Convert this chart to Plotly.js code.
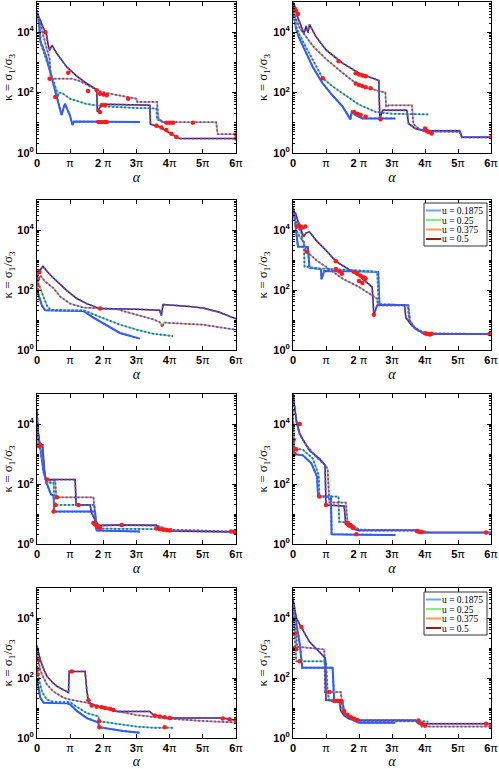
<!DOCTYPE html>
<html><head><meta charset="utf-8">
<script src="https://cdn.plot.ly/plotly-3.0.1.min.js"></script>
<style>html,body{margin:0;padding:0;background:#fff}#chart{width:499px;height:769px}</style>
</head><body><div id="chart"></div><script>
// alpha in units of pi ; kappa values
const uLabels = ['u = 0.1875','u = 0.25','u = 0.375','u = 0.5'];
const xTickVals = [0,1,2,3,4,5,6];
const xTickText = ['<b>0</b>','π','<b>2</b> π','<b>3</b>π','<b>4</b>π','<b>5</b>π','<b>6</b>π'];
const yTickVals = [1,100,10000];
const yTickText = ['<b>10<sup>0</sup></b>','<b>10<sup>2</sup></b>','<b>10<sup>4</sup></b>'];

// Panel 1
const p1b_x=[0,0.06,0.1,0.16,0.28,0.38,0.48,0.58,0.68,0.74,0.84,0.99,1.07,1.11,3.1];
const p1b_y=[5.3e4,2.5e4,4800,3500,1500,550,200,81,33,18,43,18,8.3,11,10.6];
const p1g_x=[0,0.05,0.1,0.12,0.2,0.35,0.5,0.6,0.63,0.66,0.75,1.0,1.5,2.0,3.0,3.6,3.62,3.75,4.1];
const p1g_y=[4.5e4,2e4,8000,4000,2200,700,220,110,72,100,98,62,42,35,31,30,13,11,10];
const p1o_x=[0,0.1,0.2,0.3,0.38,0.4,0.42,1.05,1.3,1.6,1.9,2.2,2.6,3.0,3.02,3.62,3.66,3.8,5.4,5.45,6.0];
const p1o_y=[3.5e4,1.8e4,7000,2800,1300,600,290,290,240,160,110,92,76,63,49,49,14,10.5,10.5,4.2,4.2];
const p1r_x=[0,0.1,0.2,0.28,0.33,0.38,0.45,0.6,0.9,1.2,1.5,1.8,1.82,1.95,2.5,3.4,3.42,3.7,4.0,4.3,6.0];
const p1r_y=[4.2e4,2.5e4,1.3e4,9000,4200,2500,3700,1950,700,350,200,126,23,41,40,38,9,7.3,4.6,3,3];
const p1d_x=[0.25,0.38,0.55,0.94,1.54,1.8,1.9,2.0,2.1,1.95,2.05,1.9,1.85,1.95,2.05,2.1,2.75,3.6,3.75,3.9,4.05,4.2,3.9,4.0,4.1,4.7,6.0,6.0];
const p1d_y=[1e4,290,72,450,113,120,92,86,82,38,38,23,10.6,10.6,10.6,10.6,63,8,7,5.8,4.3,3.4,10,10,10,10,4.1,3];

// Panel 2
const p2b_x=[0,0.05,0.1,0.2,0.4,0.6,0.9,1.2,1.5,1.74,1.78,1.9,2.1,3.1];
const p2b_y=[5e4,2.5e4,1.2e4,6000,2000,700,200,80,35,13,23,18,14,14];
const p2g_x=[0,0.05,0.1,0.2,0.4,0.6,0.9,1.2,1.5,2.0,2.5,3.0,4.1];
const p2g_y=[7e4,3e4,1.5e4,8000,3000,1200,300,160,95,40,23,20,19];
const p2o_x=[0,0.05,0.1,0.2,0.3,0.4,0.6,1.0,1.5,2.0,2.5,2.8,2.82,2.9,3.6,3.65,3.8,4.0,5.05,5.12,6.0];
const p2o_y=[9e4,5e4,2.5e4,1.4e4,1e4,7000,3500,1300,450,170,125,100,34,38,38,9,6.5,5.2,5,3.3,3.3];
const p2r_x=[0,0.08,0.15,0.25,0.33,0.4,0.45,0.5,0.7,1.0,1.5,2.0,2.3,2.6,2.63,2.72,3.45,3.5,3.7,3.95,5.05,5.12,6.0];
const p2r_y=[1e5,6e4,3e4,1.5e4,9000,1.6e4,9500,1.8e4,7000,2600,950,440,330,250,14,26,26,9.5,6.5,5.5,5.5,3.3,3.3];
const p2d_x=[0.05,0.1,0.15,0.9,1.38,1.9,2.0,2.1,2.2,1.9,2.0,2.1,2.2,2.35,1.85,1.95,2.05,2.2,2.65,4.0,4.05,4.1,4.2,6.0];
const p2d_y=[6e4,5e4,4e4,300,1100,440,400,370,350,200,180,165,150,140,23,20,18,16,13,6.5,5.5,5,4.4,3.3];

// Panel 3
const p3b_x=[0,0.05,0.15,0.25,0.5,1.0,1.4,1.7,2.0,2.5,3.1];
const p3b_y=[100,70,30,21,21,21,20,12,7.9,3.7,2.4];
const p3g_x=[0,0.05,0.15,0.3,0.4,0.8,1.4,1.7,2.0,2.5,3.0,3.5,4.1];
const p3g_y=[150,160,80,30,22,21,21,16,11.5,7.0,4.8,3.5,2.9];
const p3o_x=[0,0.03,0.1,0.25,0.48,0.7,1.0,1.4,2.0,2.4,3.0,3.5,3.7,3.78,3.83,4.0,5.0,6.0];
const p3o_y=[130,230,300,190,120,60,35,26,24,23,15,10.5,8.5,5.8,8.3,8.0,7.0,4.7];
const p3r_x=[0,0.05,0.18,0.3,0.48,0.7,0.9,1.2,1.5,1.9,2.5,3.0,3.7,3.75,3.8,4.0,4.5,5.0,5.5,6.0];
const p3r_y=[230,400,620,420,260,150,95,52,35,24,24,23,21,14,33,32,29,25,18,11];
const p3d_x=[0,0,0.02,0.07,1.9];
const p3d_y=[100,145,230,400,24];

// Panel 4
const p4b_x=[0,0.05,0.1,0.15,0.45,0.5,0.85,0.86,0.95,1.5,2.0,2.58,2.62,3.1];
const p4b_y=[6e4,3e4,8000,2800,2700,550,500,230,430,430,420,400,33,32];
const p4g_x=[0,0.05,0.1,0.2,0.33,0.35,0.8,1.5,2.0,2.55,2.6,3.5,3.55,3.7,4.0,4.1];
const p4g_y=[3e4,2e4,1e4,6000,4000,600,520,480,450,400,33,31,9,5,3.3,3.2];
const p4o_x=[0,0.08,0.15,0.25,0.3,0.42,0.7,1.0,1.5,2.0,2.4,2.55,2.57,3.48,3.52,3.7,4.0,6.0];
const p4o_y=[3.5e4,2e4,1.3e4,8000,4000,1900,1000,590,240,126,66,51,31,31,10,5.5,3.6,3.4];
const p4r_x=[0,0.08,0.15,0.25,0.32,0.4,0.5,0.7,1.0,1.3,1.6,2.0,2.4,2.45,2.55,3.38,3.42,3.6,3.8,4.0,6.0];
const p4r_y=[4.5e4,3.5e4,2e4,1e4,6000,8000,8700,4500,2100,900,550,300,125,15,31,31,12,6.5,4.5,3.4,3.4];
const p4d_x=[0.12,0.17,0.22,0.3,0.37,0.42,1.3,1.3,1.4,1.48,1.85,1.95,2.05,2.15,2.2,2.0,2.1,2.45,4.0,4.05,4.1,4.15,4.2,5.95];
const p4d_y=[1.3e4,1.4e4,1.3e4,1.2e4,1.3e4,1900,900,500,420,350,400,350,300,260,240,200,170,15,3.6,3.5,3.4,3.3,3.5,3.4];

// Panel 5
const p5b_x=[0,0.05,0.1,0.2,0.3,0.42,0.5,0.52,1.75,1.8,2.5,3.1];
const p5b_y=[1e4,2500,1500,250,100,45,40,12,12,2.8,2.7,2.6];
const p5g_x=[0,0.05,0.1,0.2,0.27,0.5,0.53,1.73,1.78,2.5,4.1];
const p5g_y=[1.5e4,3000,1800,300,110,110,20,20,3.3,3.2,3.1];
const p5o_x=[0,0.03,0.08,0.15,0.22,0.27,0.32,0.55,0.58,1.7,1.78,1.85,2.5,3.6,4.0,6.0];
const p5o_y=[2e4,5000,2000,1800,300,120,130,130,36,36,5,4.3,4.2,4.1,3.0,2.6];
const p5r_x=[0,0.03,0.08,0.12,0.17,0.22,0.27,0.32,1.15,1.18,1.6,1.65,1.75,1.87,2.5,3.6,3.7,4.0,6.0];
const p5r_y=[3e4,6000,2500,2000,2000,300,130,140,140,20,20,10.5,6.3,4.1,4.3,4.2,3.3,2.7,2.5];
const p5d_x=[0.02,0.06,0.1,0.3,0.6,0.55,0.5,1.25,1.7,1.75,1.8,1.85,1.9,2.55,3.6,3.7,3.8,3.9,4.0,5.85,5.95,6.0];
const p5d_y=[2000,1800,2000,140,36,20,12,20,5,4.5,4,3.6,3.4,4.3,3.3,3.1,3,2.9,2.8,2.6,2.5,2.4];

// Panel 6
const p6b_x=[0,0.03,0.3,0.55,0.73,0.76,1.15,1.17,2.0,3.1];
const p6b_y=[1.2e4,1000,900,500,175,38,38,2.1,2.05,2.0];
const p6g_x=[0,0.03,0.3,0.6,0.78,0.8,1.38,1.4,1.7,2.0,3.7,4.1];
const p6g_y=[3e4,1500,1400,700,200,38,38,5.5,5.2,3.0,2.9,2.5];
const p6o_x=[0,0.05,0.1,0.2,0.4,0.7,1.0,1.05,1.1,1.6,1.65,1.8,2.0,3.8,3.9,6.0];
const p6o_y=[8e4,3e4,1.2e4,4500,2000,800,400,300,24,24,6,4,2.9,2.9,2.4,2.4];
const p6r_x=[0,0.05,0.1,0.2,0.3,0.5,0.8,0.97,1.0,1.55,1.6,1.7,1.85,2.0,3.75,3.85,6.0];
const p6r_y=[1e5,4e4,1.4e4,5000,3000,1300,700,430,20,18.5,4.5,3.8,3.1,2.8,2.8,2.4,2.4];
const p6d_x=[0.02,0.05,0.1,0.05,0.2,0.8,1.0,1.62,1.68,1.72,1.78,1.82,1.92,3.75,3.8,3.85,3.9,5.85];
const p6d_y=[3000,1500,1400,1000,1e4,38,20,5,4.5,4.2,3.8,3.4,2.1,2.7,2.6,2.5,2.5,2.4];

// Panel 7
const p7b_x=[0,0.05,0.1,0.2,0.5,0.9,1.0,1.2,1.5,1.85,1.87,2.2,2.6,3.1];
const p7b_y=[90,40,22,15,14.5,14.5,13,8,4.6,3.3,2.3,2.0,1.7,1.5];
const p7g_x=[0,0.05,0.15,0.3,0.5,0.9,1.0,1.2,1.5,1.85,1.87,2.2,2.6,3.0,3.5,4.1];
const p7g_y=[250,100,35,19,16,16,15.5,11,6.8,5.3,3.6,3.2,2.7,2.4,2.2,2.2];
const p7o_x=[0,0.05,0.1,0.2,0.3,0.5,0.8,1.0,1.5,2.0,2.5,3.0,3.5,4.0,5.0,6.0];
const p7o_y=[700,300,180,100,60,35,22,19,15,10.5,7.5,5.8,5.0,4.4,3.7,3.3];
const p7r_x=[0,0.05,0.1,0.2,0.3,0.45,0.6,0.8,0.95,0.97,1.45,1.5,1.55,1.65,2.0,2.4,3.4,3.5,3.9,5.6,6.0];
const p7r_y=[1200,700,400,200,113,75,53,40,33,166,166,40,17,13,10,7.7,7.7,6,4.6,4.6,3.9];
const p7d_x=[0.05,0.02,0.02,1.05,1.55,1.65,1.8,1.95,2.05,2.2,2.3,3.55,3.7,3.85,4.0,1.87,1.88,3.85,5.6,5.8,6.0];
const p7d_y=[400,200,130,166,18,12,11,10.5,10,9.5,8.6,5.6,5.2,4.9,4.6,3.6,2.3,2.3,4.5,4.2,4.0];

// Panel 8
const p8b_x=[0,0.05,0.1,0.2,0.28,1.2,1.25,1.5,1.55,1.7,2.0,3.1];
const p8b_y=[3e4,1.5e4,6000,1500,220,220,17,17,7,4.5,3.2,3.2];
const p8g_x=[0,0.03,0.06,0.1,1.0,1.05,1.1,1.5,1.55,1.7,2.0,3.7,4.1];
const p8g_y=[2e4,5000,2000,360,360,34,17,17,7,5,3.8,3.8,3.5];
const p8o_x=[0,0.05,0.1,0.12,0.5,0.7,0.95,0.97,1.45,1.5,1.7,2.0,3.8,3.9,6.0];
const p8o_y=[3e4,1e4,3000,1100,1000,950,900,34,34,9,5,3.6,3.6,2.4,2.4];
const p8r_x=[0,0.05,0.1,0.25,0.5,0.8,0.98,1.0,1.4,1.45,1.55,1.7,2.0,3.7,3.8,6.0];
const p8r_y=[4.4e4,2e4,1e4,5000,1600,740,460,18,18,8,5.5,4.4,3.9,3.9,3.0,3.0];
const p8d_x=[0.05,0.05,0.1,0.25,0.2,1.1,1.25,1.35,1.45,1.55,1.65,1.75,1.85,1.95,3.8,3.9,4.0,5.85,6.0];
const p8d_y=[3000,1000,900,5000,360,34,17,17,17,8,6,5,4.4,4.0,3.8,3.0,2.6,3.0,2.4];

const panels = [
  {c:[[p1b_x,p1b_y],[p1g_x,p1g_y],[p1o_x,p1o_y],[p1r_x,p1r_y]], d:[p1d_x,p1d_y]},
  {c:[[p2b_x,p2b_y],[p2g_x,p2g_y],[p2o_x,p2o_y],[p2r_x,p2r_y]], d:[p2d_x,p2d_y]},
  {c:[[p3b_x,p3b_y],[p3g_x,p3g_y],[p3o_x,p3o_y],[p3r_x,p3r_y]], d:[p3d_x,p3d_y]},
  {c:[[p4b_x,p4b_y],[p4g_x,p4g_y],[p4o_x,p4o_y],[p4r_x,p4r_y]], d:[p4d_x,p4d_y]},
  {c:[[p5b_x,p5b_y],[p5g_x,p5g_y],[p5o_x,p5o_y],[p5r_x,p5r_y]], d:[p5d_x,p5d_y]},
  {c:[[p6b_x,p6b_y],[p6g_x,p6g_y],[p6o_x,p6o_y],[p6r_x,p6r_y]], d:[p6d_x,p6d_y]},
  {c:[[p7b_x,p7b_y],[p7g_x,p7g_y],[p7o_x,p7o_y],[p7r_x,p7r_y]], d:[p7d_x,p7d_y]},
  {c:[[p8b_x,p8b_y],[p8g_x,p8g_y],[p8o_x,p8o_y],[p8r_x,p8r_y]], d:[p8d_x,p8d_y]}
];

const uColors = ['#2a5cff','#66e266','#ff8a3d','#7a0a0a'];
const legColors = ['#6ea4f0','#7ef07e','#ff9a5c','#8b1e1e'];
const dotBlue = '#3a5cf5';
const W = 499, H = 769;
const colPx = [[37,236],[293,491]];
const rowPx = [[2,153],[200,350],[394,544],[588,738]];
// minor tick positions on the log axes (axis decoration)
const minorVals = [];
for (let e = 0; e < 5; e++) for (let m = 2; m <= 10; m++) if (!(m === 10 && e % 2 === 1)) minorVals.push(m * Math.pow(10, e));

const traces = [], overlays = [], reds = [];
const layout = {
  width: W, height: H, margin:{l:0,r:0,t:0,b:0},
  paper_bgcolor:'#fff', plot_bgcolor:'#fff', showlegend:false,
  font:{family:'Liberation Sans, Arial, sans-serif', color:'#000'},
  shapes:[], annotations:[]
};
const tickFont = {family:'Liberation Sans, Arial, sans-serif', size:11, color:'#000'};

panels.forEach((p, i) => {
  const n = i + 1, s = n === 1 ? '' : String(n);
  const col = i % 2, row = Math.floor(i / 2);
  p.c.forEach((cv, j) => {
    traces.push({x: cv[0], y: cv[1], type:'scatter', mode:'lines', xaxis:'x'+s, yaxis:'y'+s,
      name: uLabels[j], line:{color:uColors[j], width: j === 0 ? 2 : 1.5}, hoverinfo:'skip'});
    overlays.push({x: cv[0], y: cv[1], type:'scatter', mode:'lines', xaxis:'x'+s, yaxis:'y'+s,
      line:{color:dotBlue, width:1.8, dash:'2px,2px'}, hoverinfo:'skip'});
  });
  reds.push({x: p.d[0], y: p.d[1], type:'scatter', mode:'markers', xaxis:'x'+s, yaxis:'y'+s,
    marker:{color:'#ff1a1a', size:4.5}, hoverinfo:'skip'});
  const xd = [colPx[col][0]/W, colPx[col][1]/W];
  const yd = [1 - rowPx[row][1]/H, 1 - rowPx[row][0]/H];
  layout['xaxis'+s] = {domain:xd, anchor:'y'+s, range:[0,6], tickmode:'array', tickvals:xTickVals, ticktext:xTickText,
    ticks:'inside', ticklen:4, tickcolor:'#000', showline:true, mirror:'allticks', linecolor:'#000', linewidth:1,
    showgrid:false, zeroline:false, tickfont:tickFont,
    title:{text:'α', font:{family:'Liberation Serif, serif', size:14, style:'italic', color:'#000'}, standoff:3}};
  layout['yaxis'+s] = {domain:yd, anchor:'x'+s, type:'log', range:[0,5], tickmode:'array', tickvals:yTickVals, ticktext:yTickText,
    ticks:'inside', ticklen:4, tickcolor:'#000', showline:true, mirror:'allticks', linecolor:'#000', linewidth:1,
    showgrid:false, zeroline:false, tickfont:tickFont,
    minor:{ticks:'inside', ticklen:2, tickcolor:'#000', tickmode:'array', tickvals:minorVals},
    title:{text:'κ = σ<sub>1</sub>/σ<sub>3</sub>', font:{family:'Liberation Serif, serif', size:13, color:'#000'}, standoff:2}};
});

// compact legends (box with line samples and text), top-right of panels 4 and 8
function addLegend(left, top) {
  const w = 63, h = 43;
  layout.shapes.push({type:'rect', xref:'paper', yref:'paper', x0:left/W, x1:(left+w)/W, y0:1-(top+h)/H, y1:1-top/H,
    line:{color:'#333', width:1}, fillcolor:'#fff', layer:'above'});
  uLabels.forEach((lab, j) => {
    const yy = 1 - (top + 7.5 + j*9.5)/H;
    layout.shapes.push({type:'line', xref:'paper', yref:'paper', x0:(left+2)/W, x1:(left+17)/W, y0:yy, y1:yy,
      line:{color:legColors[j], width:2}, layer:'above'});
    layout.annotations.push({xref:'paper', yref:'paper', x:(left+17)/W, y:yy, xanchor:'left', yanchor:'middle',
      text:lab, showarrow:false, height:9, borderpad:0, valign:'middle',
      font:{family:'Liberation Serif, serif', size:9.5, color:'#000'}});
  });
}
addLegend(424, 203);
addLegend(424, 592);

Plotly.newPlot('chart', traces.concat(overlays, reds), layout, {staticPlot:true, displayModeBar:false});
</script></body></html>
